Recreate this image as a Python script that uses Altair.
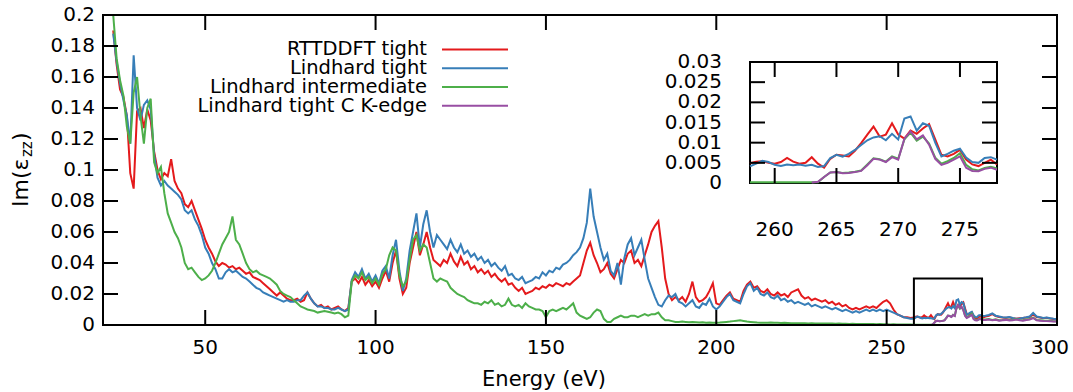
import altair as alt
import pandas as pd

# ---- series names and colours -------------------------------------------
SERIES = ["RTTDDFT tight", "Lindhard tight", "Lindhard intermediate", "Lindhard tight C K-edge"]
COLORS = ["#e41a1c", "#377eb8", "#4daf4a", "#984ea3"]

# ---- energy grids (eV) ----------------------------------------------------
energy_coarse = list(range(23, 258))                 # 1 eV steps
energy_fine = [258 + 0.5 * i for i in range(41)]     # 0.5 eV steps, 258..278
energy_tail = list(range(279, 301))                  # 1 eV steps
energy = energy_coarse + energy_fine + energy_tail
energy_kedge = [263 + 0.5 * i for i in range(31)] + energy_tail

# ---- Im(eps_zz) values ----------------------------------------------------
rttddft = [
    0.190, 0.168, 0.152, 0.147, 0.135, 0.098, 0.088, 0.138, 0.140, 0.127,
    0.139, 0.132, 0.112, 0.100, 0.094, 0.098, 0.096, 0.107, 0.093, 0.088,
    0.085, 0.078, 0.076, 0.080, 0.074, 0.068, 0.062, 0.055, 0.050, 0.046,
    0.041, 0.038, 0.040, 0.039, 0.037, 0.038, 0.036, 0.037, 0.035, 0.033,
    0.034, 0.031, 0.030, 0.029, 0.027, 0.025, 0.023, 0.021, 0.019, 0.021,
    0.019, 0.017, 0.016, 0.016, 0.017, 0.015, 0.016, 0.021, 0.017, 0.014,
    0.012, 0.013, 0.011, 0.012, 0.010, 0.011, 0.012, 0.010, 0.009, 0.011,
    0.028, 0.030, 0.027, 0.031, 0.026, 0.029, 0.025, 0.028, 0.024, 0.030,
    0.035, 0.028, 0.040, 0.048, 0.030, 0.020, 0.024, 0.040, 0.050, 0.060,
    0.045, 0.052, 0.060, 0.050, 0.042, 0.040, 0.038, 0.042, 0.040, 0.046,
    0.041, 0.038, 0.044, 0.039, 0.041, 0.036, 0.038, 0.034, 0.036, 0.033,
    0.035, 0.031, 0.033, 0.030, 0.028, 0.030, 0.026, 0.027, 0.024, 0.022,
    0.024, 0.020, 0.021, 0.022, 0.024, 0.023, 0.025, 0.024, 0.026, 0.025,
    0.027, 0.026, 0.025, 0.027, 0.026, 0.028, 0.030, 0.032, 0.040, 0.048,
    0.053, 0.045, 0.040, 0.034, 0.036, 0.040, 0.033, 0.030, 0.036, 0.042,
    0.040, 0.046, 0.048, 0.040, 0.042, 0.038, 0.045, 0.052, 0.060, 0.064,
    0.067, 0.050, 0.030, 0.020, 0.016, 0.018, 0.016, 0.018, 0.015, 0.020,
    0.028, 0.018, 0.015, 0.016, 0.018, 0.022, 0.027, 0.014, 0.013, 0.016,
    0.019, 0.021, 0.017, 0.016, 0.015, 0.022, 0.026, 0.028, 0.024, 0.025,
    0.022, 0.021, 0.023, 0.020, 0.019, 0.021, 0.019, 0.020, 0.018, 0.021,
    0.022, 0.023, 0.019, 0.017, 0.018, 0.016, 0.017, 0.016, 0.015, 0.016,
    0.014, 0.015, 0.013, 0.014, 0.012, 0.013, 0.011, 0.010, 0.011, 0.010,
    0.011, 0.012, 0.011, 0.012, 0.011, 0.013, 0.015, 0.016, 0.014, 0.010,
    0.007, 0.006, 0.005, 0.005, 0.0045,
    # 258 .. 278 eV
    0.0049, 0.0053, 0.0054, 0.0050, 0.0048, 0.0052, 0.0062, 0.0053, 0.0048, 0.0050,
    0.0064, 0.0048, 0.0038, 0.0060, 0.0070, 0.0068, 0.0066, 0.0080, 0.0099, 0.0120,
    0.0140, 0.0115, 0.0120, 0.0148, 0.0120, 0.0110, 0.0130, 0.0122, 0.0135, 0.0146,
    0.0108, 0.0070, 0.0066, 0.0072, 0.0082, 0.0058, 0.0046, 0.0042, 0.0050, 0.0058,
    0.0046,
    # 279 .. 300 eV
    0.0055, 0.0060, 0.0070, 0.0058, 0.0052, 0.0048, 0.0046, 0.0050, 0.0044, 0.0041,
    0.0043, 0.0045, 0.0048, 0.0052, 0.0070, 0.0052, 0.0048, 0.0044, 0.0046, 0.0042,
    0.0039, 0.0037,
]

lindhard_tight = [
    0.188, 0.170, 0.156, 0.145, 0.135, 0.117, 0.174, 0.140, 0.132, 0.142,
    0.145, 0.139, 0.110, 0.095, 0.090, 0.093, 0.090, 0.088, 0.086, 0.084,
    0.081, 0.074, 0.072, 0.074, 0.068, 0.064, 0.058, 0.050, 0.046, 0.040,
    0.036, 0.030, 0.030, 0.034, 0.036, 0.034, 0.035, 0.033, 0.031, 0.030,
    0.028, 0.026, 0.024, 0.023, 0.021, 0.020, 0.019, 0.018, 0.017, 0.016,
    0.015, 0.016, 0.015, 0.015, 0.016, 0.016, 0.019, 0.021, 0.017, 0.014,
    0.012, 0.012, 0.011, 0.011, 0.010, 0.010, 0.011, 0.010, 0.009, 0.010,
    0.029, 0.034, 0.031, 0.036, 0.030, 0.033, 0.028, 0.032, 0.027, 0.035,
    0.038, 0.030, 0.045, 0.055, 0.035, 0.022, 0.030, 0.048, 0.060, 0.072,
    0.050, 0.065, 0.074, 0.060, 0.050, 0.058, 0.055, 0.052, 0.049, 0.055,
    0.050, 0.047, 0.052, 0.046, 0.048, 0.044, 0.046, 0.042, 0.044, 0.040,
    0.042, 0.038, 0.040, 0.037, 0.035, 0.038, 0.032, 0.033, 0.030, 0.029,
    0.031, 0.027, 0.028, 0.029, 0.031, 0.030, 0.034, 0.032, 0.035, 0.034,
    0.037, 0.036, 0.039, 0.040, 0.042, 0.045, 0.047, 0.050, 0.056, 0.066,
    0.088, 0.070, 0.060, 0.050, 0.042, 0.046, 0.035, 0.032, 0.040, 0.026,
    0.043, 0.052, 0.056, 0.045, 0.050, 0.055, 0.042, 0.030, 0.024, 0.018,
    0.013, 0.012, 0.016, 0.019, 0.018, 0.020, 0.015, 0.014, 0.012, 0.014,
    0.016, 0.012, 0.011, 0.014, 0.013, 0.017, 0.012, 0.010, 0.012, 0.015,
    0.018, 0.020, 0.016, 0.015, 0.014, 0.020, 0.025, 0.027, 0.022, 0.024,
    0.020, 0.019, 0.021, 0.018, 0.017, 0.019, 0.016, 0.017, 0.015, 0.016,
    0.014, 0.015, 0.014, 0.013, 0.014, 0.012, 0.013, 0.012, 0.011, 0.012,
    0.011, 0.010, 0.011, 0.010, 0.009, 0.010, 0.009, 0.008, 0.009, 0.008,
    0.009, 0.010, 0.009, 0.010, 0.009, 0.010, 0.009, 0.010, 0.009, 0.008,
    0.007, 0.006, 0.005, 0.0045, 0.004,
    # 258 .. 278 eV
    0.0041, 0.0048, 0.0055, 0.0052, 0.0045, 0.0042, 0.0046, 0.0044, 0.0046, 0.0043,
    0.0045, 0.0040, 0.0042, 0.0062, 0.0070, 0.0065, 0.0072, 0.0082, 0.0094, 0.0106,
    0.0113, 0.0116, 0.0106, 0.0122, 0.0108, 0.0160, 0.0165, 0.0130, 0.0148, 0.0142,
    0.0100, 0.0066, 0.0072, 0.0080, 0.0085, 0.0063, 0.0052, 0.0050, 0.0062, 0.0064,
    0.0058,
    # 279 .. 300 eV
    0.0060, 0.0065, 0.0075, 0.0060, 0.0055, 0.0050, 0.0048, 0.0052, 0.0045, 0.0040,
    0.0042, 0.0046, 0.0050, 0.0055, 0.0078, 0.0055, 0.0050, 0.0045, 0.0048, 0.0044,
    0.0040, 0.0038,
]

lindhard_intermediate = [
    0.200, 0.172, 0.158, 0.148, 0.128, 0.117, 0.150, 0.160, 0.135, 0.117,
    0.140, 0.146, 0.105, 0.098, 0.102, 0.085, 0.072, 0.066, 0.060, 0.056,
    0.050, 0.040, 0.036, 0.037, 0.034, 0.031, 0.029, 0.030, 0.032, 0.035,
    0.040, 0.046, 0.052, 0.056, 0.060, 0.070, 0.055, 0.052, 0.046, 0.040,
    0.036, 0.034, 0.035, 0.033, 0.032, 0.031, 0.030, 0.028, 0.026, 0.022,
    0.020, 0.019, 0.018, 0.016, 0.014, 0.012, 0.011, 0.010, 0.0095, 0.009,
    0.008, 0.0085, 0.009, 0.0085, 0.008, 0.0075, 0.008, 0.007, 0.005, 0.006,
    0.028, 0.032, 0.030, 0.034, 0.029, 0.031, 0.027, 0.030, 0.026, 0.033,
    0.036, 0.045, 0.050, 0.048, 0.032, 0.025, 0.028, 0.042, 0.055, 0.058,
    0.048, 0.052, 0.050, 0.040, 0.030, 0.028, 0.030, 0.029, 0.028, 0.024,
    0.022, 0.020, 0.019, 0.018, 0.016, 0.015, 0.014, 0.014, 0.013, 0.015,
    0.014, 0.016, 0.013, 0.014, 0.012, 0.013, 0.017, 0.013, 0.012, 0.013,
    0.011, 0.014, 0.012, 0.011, 0.010, 0.010, 0.009, 0.005, 0.009, 0.010,
    0.009, 0.010, 0.011, 0.010, 0.012, 0.014, 0.008, 0.006, 0.005, 0.004,
    0.005, 0.008, 0.010, 0.009, 0.004, 0.002, 0.002, 0.004, 0.005, 0.006,
    0.005, 0.005, 0.006, 0.006, 0.005, 0.006, 0.007, 0.006, 0.007, 0.007,
    0.008, 0.005, 0.003, 0.003, 0.0025, 0.002, 0.002, 0.0022, 0.002, 0.0018,
    0.002, 0.0018, 0.0016, 0.0018, 0.0015, 0.0016, 0.0014, 0.0015, 0.0016, 0.0018,
    0.002, 0.0022, 0.0025, 0.0028, 0.003, 0.0026, 0.0022, 0.002, 0.0018, 0.0016,
    0.0015, 0.0014, 0.0015, 0.0016, 0.0015, 0.0014, 0.0013, 0.0014, 0.0013, 0.0012,
    0.0012, 0.0011, 0.0012, 0.0011, 0.001, 0.0011, 0.001, 0.001, 0.0009, 0.001,
    0.0009, 0.0009, 0.0008, 0.0009, 0.0008, 0.0008, 0.0007, 0.0008, 0.0007, 0.0007,
    0.0006, 0.0007, 0.0006, 0.0006, 0.0005, 0.0006, 0.0005, 0.0005, 0.0004, 0.0005,
    0.0004, 0.0004, 0.0003, 0.0003, 0.0003,
    # 258 .. 278 eV
    0.0002, 0.0002, 0.0002, 0.0002, 0.0002, 0.0002, 0.0002, 0.0002, 0.0002, 0.0002,
    0.0002, 0.0002, 0.0015, 0.0026, 0.0027, 0.0025, 0.0026, 0.0028, 0.0031, 0.0046,
    0.0061, 0.0059, 0.0053, 0.0066, 0.0060, 0.0108, 0.0125, 0.0105, 0.0115, 0.0098,
    0.0063, 0.0048, 0.0054, 0.0062, 0.0074, 0.0045, 0.0034, 0.0031, 0.0037, 0.0040,
    0.0036,
    # 279 .. 300 eV
    0.0035, 0.0039, 0.0033, 0.0037, 0.0031, 0.0033, 0.0036, 0.0032, 0.0034, 0.0038,
    0.0033, 0.0030, 0.0035, 0.0039, 0.0047, 0.0033, 0.0031, 0.0029, 0.0028, 0.0027,
    0.0025, 0.0025,
]

lindhard_kedge = [
    # 263 .. 278 eV
    0.0001, 0.0003, 0.0015, 0.0026, 0.0027, 0.0024, 0.0025, 0.0027, 0.0030, 0.0044,
    0.0060, 0.0058, 0.0052, 0.0064, 0.0058, 0.0110, 0.0128, 0.0108, 0.0118, 0.0095,
    0.0060, 0.0045, 0.0050, 0.0058, 0.0066, 0.0038, 0.0030, 0.0029, 0.0035, 0.0038,
    0.0033,
    # 279 .. 300 eV
    0.0032, 0.0036, 0.0030, 0.0034, 0.0028, 0.0030, 0.0033, 0.0029, 0.0031, 0.0035,
    0.0030, 0.0027, 0.0032, 0.0036, 0.0045, 0.0030, 0.0028, 0.0026, 0.0025, 0.0024,
    0.0022, 0.0022,
]

# ---- axes ---------------------------------------------------------------
MAIN_X_DOMAIN = [20, 300]
MAIN_Y_DOMAIN = [0, 0.2]
MAIN_XTICKS = [50, 100, 150, 200, 250, 300]
MAIN_YTICKS = [0, 0.02, 0.04, 0.06, 0.08, 0.1, 0.12, 0.14, 0.16, 0.18, 0.2]

INSET_X_DOMAIN = [258, 278]
INSET_Y_DOMAIN = [0, 0.03]
INSET_XTICKS = [260, 265, 270, 275]
INSET_YTICKS = [0, 0.005, 0.01, 0.015, 0.02, 0.025, 0.03]

# ---- layout (pixels, relative to the plot area) ---------------------------
W, H = 954, 310
TICK = 15
MAIN_XLABEL_Y = H + 23
MAIN_YLABEL_X = -8
LAST_XLABEL_SHIFT = -7      # keeps the right-most label inside the canvas
XTITLE_POS = (441, 371)
INSET_LEFT, INSET_RIGHT = 647, 894
INSET_TOP, INSET_BOTTOM = 47, 168
INSET_YLABEL_X = 619
INSET_XLABEL_Y = 215
KEY_ROWS = [25, 100]
KEY_TEXT_RIGHT = 324
KEY_SAMPLE = (339, 405)

FONT = "DejaVu Sans"

# ---- tidy table -----------------------------------------------------------
frames = []
for name, xs, ys in [
    (SERIES[0], energy, rttddft),
    (SERIES[1], energy, lindhard_tight),
    (SERIES[2], energy, lindhard_intermediate),
    (SERIES[3], energy_kedge, lindhard_kedge),
]:
    frames.append(pd.DataFrame({"series": name, "E": xs, "v": ys}))
df = pd.concat(frames, ignore_index=True)

color = alt.Color("series:N", scale=alt.Scale(domain=SERIES, range=COLORS), legend=None)
tick_style = dict(color="black", strokeWidth=2)
label_style = dict(font=FONT, fontSize=20, color="black", baseline="middle")

# ---------------- main panel ----------------------------------------------
mx = alt.Scale(domain=MAIN_X_DOMAIN, nice=False, zero=False)
my = alt.Scale(domain=MAIN_Y_DOMAIN, nice=False, zero=False)
MX = lambda: alt.X("E:Q", scale=mx, axis=None)
MY = lambda: alt.Y("v:Q", scale=my, axis=None)

frame = alt.Chart(pd.DataFrame({"f": [0]})).mark_rect(
    fill="transparent", stroke="black", strokeWidth=2
).encode(x=alt.value(0), x2=alt.value(W), y=alt.value(0), y2=alt.value(H))

main_lines = [
    alt.Chart(df[df.series == s]).mark_line(strokeWidth=2, clip=True).encode(
        x=MX(), y=MY(), color=color
    )
    for s in SERIES
]

box_df = pd.DataFrame({
    "E": [INSET_X_DOMAIN[0]], "E2": [INSET_X_DOMAIN[1]],
    "v": [INSET_Y_DOMAIN[0]], "v2": [INSET_Y_DOMAIN[1]],
})
zoom_box = alt.Chart(box_df).mark_rect(fill="transparent", stroke="black", strokeWidth=2).encode(
    x=MX(), x2="E2", y=MY(), y2="v2"
)

xt = pd.DataFrame({"E": MAIN_XTICKS})
yt = pd.DataFrame({"v": MAIN_YTICKS})
yt_inner = pd.DataFrame({"v": MAIN_YTICKS[1:-1]})
main_ticks = [
    alt.Chart(xt).mark_rule(**tick_style).encode(x=MX(), y=alt.value(H), y2=alt.value(H - TICK)),
    alt.Chart(xt).mark_rule(**tick_style).encode(x=MX(), y=alt.value(0), y2=alt.value(TICK)),
    alt.Chart(yt_inner).mark_rule(**tick_style).encode(y=MY(), x=alt.value(0), x2=alt.value(TICK)),
    alt.Chart(yt_inner).mark_rule(**tick_style).encode(y=MY(), x=alt.value(W), x2=alt.value(W - TICK)),
]
main_labels = [
    alt.Chart(xt[xt.E < MAIN_X_DOMAIN[1]]).mark_text(align="center", **label_style).encode(
        x=MX(), y=alt.value(MAIN_XLABEL_Y), text=alt.Text("E:Q", format="~g")
    ),
    alt.Chart(xt[xt.E == MAIN_X_DOMAIN[1]]).mark_text(align="center", dx=LAST_XLABEL_SHIFT, **label_style).encode(
        x=MX(), y=alt.value(MAIN_XLABEL_Y), text=alt.Text("E:Q", format="~g")
    ),
    alt.Chart(yt).mark_text(align="right", **label_style).encode(
        y=MY(), x=alt.value(MAIN_YLABEL_X), text=alt.Text("v:Q", format="~g")
    ),
]
xtitle = alt.Chart(pd.DataFrame({"t": ["Energy (eV)"]})).mark_text(
    align="center", baseline="alphabetic", font=FONT, fontSize=21, color="black"
).encode(text="t:N", x=alt.value(XTITLE_POS[0]), y=alt.value(XTITLE_POS[1]))

main = alt.layer(*main_lines, zoom_box, *main_ticks, *main_labels, frame, xtitle)

# ---------------- inset ---------------------------------------------------
ix = alt.Scale(domain=INSET_X_DOMAIN, range=[INSET_LEFT, INSET_RIGHT], nice=False, zero=False)
iy = alt.Scale(domain=INSET_Y_DOMAIN, range=[INSET_BOTTOM, INSET_TOP], nice=False, zero=False)
IX = lambda: alt.X("E:Q", scale=ix, axis=None)
IY = lambda: alt.Y("v:Q", scale=iy, axis=None)

inset_frame = alt.Chart(box_df).mark_rect(fill="white", stroke="black", strokeWidth=2).encode(
    x=IX(), x2="E2", y=IY(), y2="v2",
)

inset_df = df[(df.E >= INSET_X_DOMAIN[0]) & (df.E <= INSET_X_DOMAIN[1])]
inset_lines = [
    alt.Chart(inset_df[inset_df.series == s]).mark_line(strokeWidth=2).encode(
        x=IX(), y=IY(), color=color,
    )
    for s in SERIES
]

ixt = pd.DataFrame({"E": INSET_XTICKS})
iyt = pd.DataFrame({"v": INSET_YTICKS})
iyt_inner = pd.DataFrame({"v": INSET_YTICKS[1:-1]})
inset_ticks = [
    alt.Chart(ixt).mark_rule(**tick_style).encode(x=IX(), y=alt.value(INSET_BOTTOM), y2=alt.value(INSET_BOTTOM - TICK)),
    alt.Chart(ixt).mark_rule(**tick_style).encode(x=IX(), y=alt.value(INSET_TOP), y2=alt.value(INSET_TOP + TICK)),
    alt.Chart(iyt_inner).mark_rule(**tick_style).encode(y=IY(), x=alt.value(INSET_LEFT), x2=alt.value(INSET_LEFT + TICK)),
    alt.Chart(iyt_inner).mark_rule(**tick_style).encode(y=IY(), x=alt.value(INSET_RIGHT), x2=alt.value(INSET_RIGHT - TICK)),
]
inset_labels = [
    alt.Chart(ixt).mark_text(align="center", **label_style).encode(
        x=IX(), y=alt.value(INSET_XLABEL_Y), text=alt.Text("E:Q", format="~g")
    ),
    alt.Chart(iyt).mark_text(align="right", **label_style).encode(
        y=IY(), x=alt.value(INSET_YLABEL_X), text=alt.Text("v:Q", format="~g")
    ),
]

inset = alt.layer(inset_frame, *inset_lines, *inset_ticks, *inset_labels)

# ---------------- key (labels to the left of their line samples) ----------
key_df = pd.DataFrame({"series": SERIES})
key_y = alt.Y("series:N", scale=alt.Scale(domain=SERIES, range=KEY_ROWS, padding=0), axis=None)
key_text = alt.Chart(key_df).mark_text(
    align="right", baseline="middle", font=FONT, fontSize=19.5, color="black"
).encode(x=alt.value(KEY_TEXT_RIGHT), y=key_y, text="series:N")
key_line = alt.Chart(key_df).mark_rule(strokeWidth=2).encode(
    x=alt.value(KEY_SAMPLE[0]), x2=alt.value(KEY_SAMPLE[1]), y=key_y, color=color
)
key = alt.layer(key_text, key_line)

# ---------------- y title: Im(eps_zz) with subscript ----------------------
def ytitle_part(text, size, x, y):
    return alt.Chart(pd.DataFrame({"t": [text]})).mark_text(
        angle=270, align="left", baseline="alphabetic", font=FONT, fontSize=size, color="black"
    ).encode(text="t:N", x=alt.value(x), y=alt.value(y))

ytitle = alt.layer(
    ytitle_part("Im(ε", 22, -75, 192),
    ytitle_part("zz", 15, -71, 142),
    ytitle_part(")", 22, -75, 126),
)

chart = alt.layer(main, inset, key, ytitle).resolve_scale(
    x="independent", y="independent"
).properties(
    width=W, height=H, autosize="none",
    padding={"left": 103, "top": 15, "right": 16, "bottom": 67},
).configure_view(
    stroke=None
).configure(background="white")

chart.save("out.html", embed_options={"renderer": "svg", "actions": False})
